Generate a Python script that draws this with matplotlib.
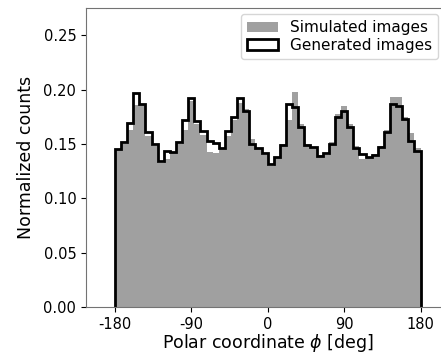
import numpy as np
import matplotlib
matplotlib.use("Agg")
import matplotlib.pyplot as plt

# 50 bins of 7.2 deg between -180 and 180
phi_edges = np.linspace(-180, 180, 51)
phi_centers = 0.5 * (phi_edges[:-1] + phi_edges[1:])

# simulated images (grey filled histogram)
simulated = [0.145, 0.150, 0.163, 0.186, 0.186, 0.157, 0.148, 0.133, 0.136, 0.142,
             0.150, 0.163, 0.190, 0.168, 0.158, 0.143, 0.142, 0.145, 0.157, 0.172,
             0.188, 0.182, 0.155, 0.145, 0.140, 0.130, 0.137, 0.150, 0.172, 0.198,
             0.168, 0.150, 0.146, 0.140, 0.140, 0.152, 0.178, 0.185, 0.168, 0.148,
             0.136, 0.137, 0.141, 0.148, 0.163, 0.193, 0.193, 0.175, 0.160, 0.146]

# generated images (black step histogram)
generated = [0.145, 0.152, 0.169, 0.197, 0.187, 0.161, 0.150, 0.134, 0.144, 0.143,
             0.152, 0.172, 0.192, 0.171, 0.162, 0.153, 0.151, 0.146, 0.162, 0.175,
             0.192, 0.180, 0.150, 0.146, 0.142, 0.132, 0.138, 0.149, 0.187, 0.184,
             0.166, 0.149, 0.147, 0.139, 0.142, 0.150, 0.175, 0.180, 0.166, 0.146,
             0.141, 0.138, 0.140, 0.147, 0.161, 0.187, 0.185, 0.173, 0.153, 0.144]

x_ticks = [-180, -90, 0, 90, 180]
y_ticks = [0.00, 0.05, 0.10, 0.15, 0.20, 0.25]

plt.rcParams['font.size'] = 10.5

fig = plt.figure(figsize=(4.41, 3.53), dpi=100)
# right edge sits past the picture, like the cropped original
ax = fig.add_axes([0.195, 0.13, 0.826, 0.847])

ax.hist(phi_centers, bins=phi_edges, weights=simulated, color='#a0a0a0',
        label='Simulated images')
ax.hist(phi_centers, bins=phi_edges, weights=generated, histtype='step',
        color='black', linewidth=2, label='Generated images')

ax.set_xlim(-214, 215)
ax.set_ylim(0, 0.275)
ax.set_xticks(x_ticks)
ax.set_xticklabels([str(t) for t in x_ticks])
ax.set_yticks(y_ticks)
ax.set_yticklabels([f"{t:.2f}" for t in y_ticks])

for s in ax.spines.values():
    s.set_color('0.45')

ax.set_xlabel(r'Polar coordinate $\phi$ [deg]', fontsize=12.5, labelpad=0)
ax.set_ylabel('Normalized counts', fontsize=12.5, labelpad=6)
ax.legend(loc='upper right', bbox_to_anchor=(0.984, 1.0), fontsize=11,
          borderaxespad=0.4, labelspacing=0.15)

fig.savefig('out.png', dpi=100)
